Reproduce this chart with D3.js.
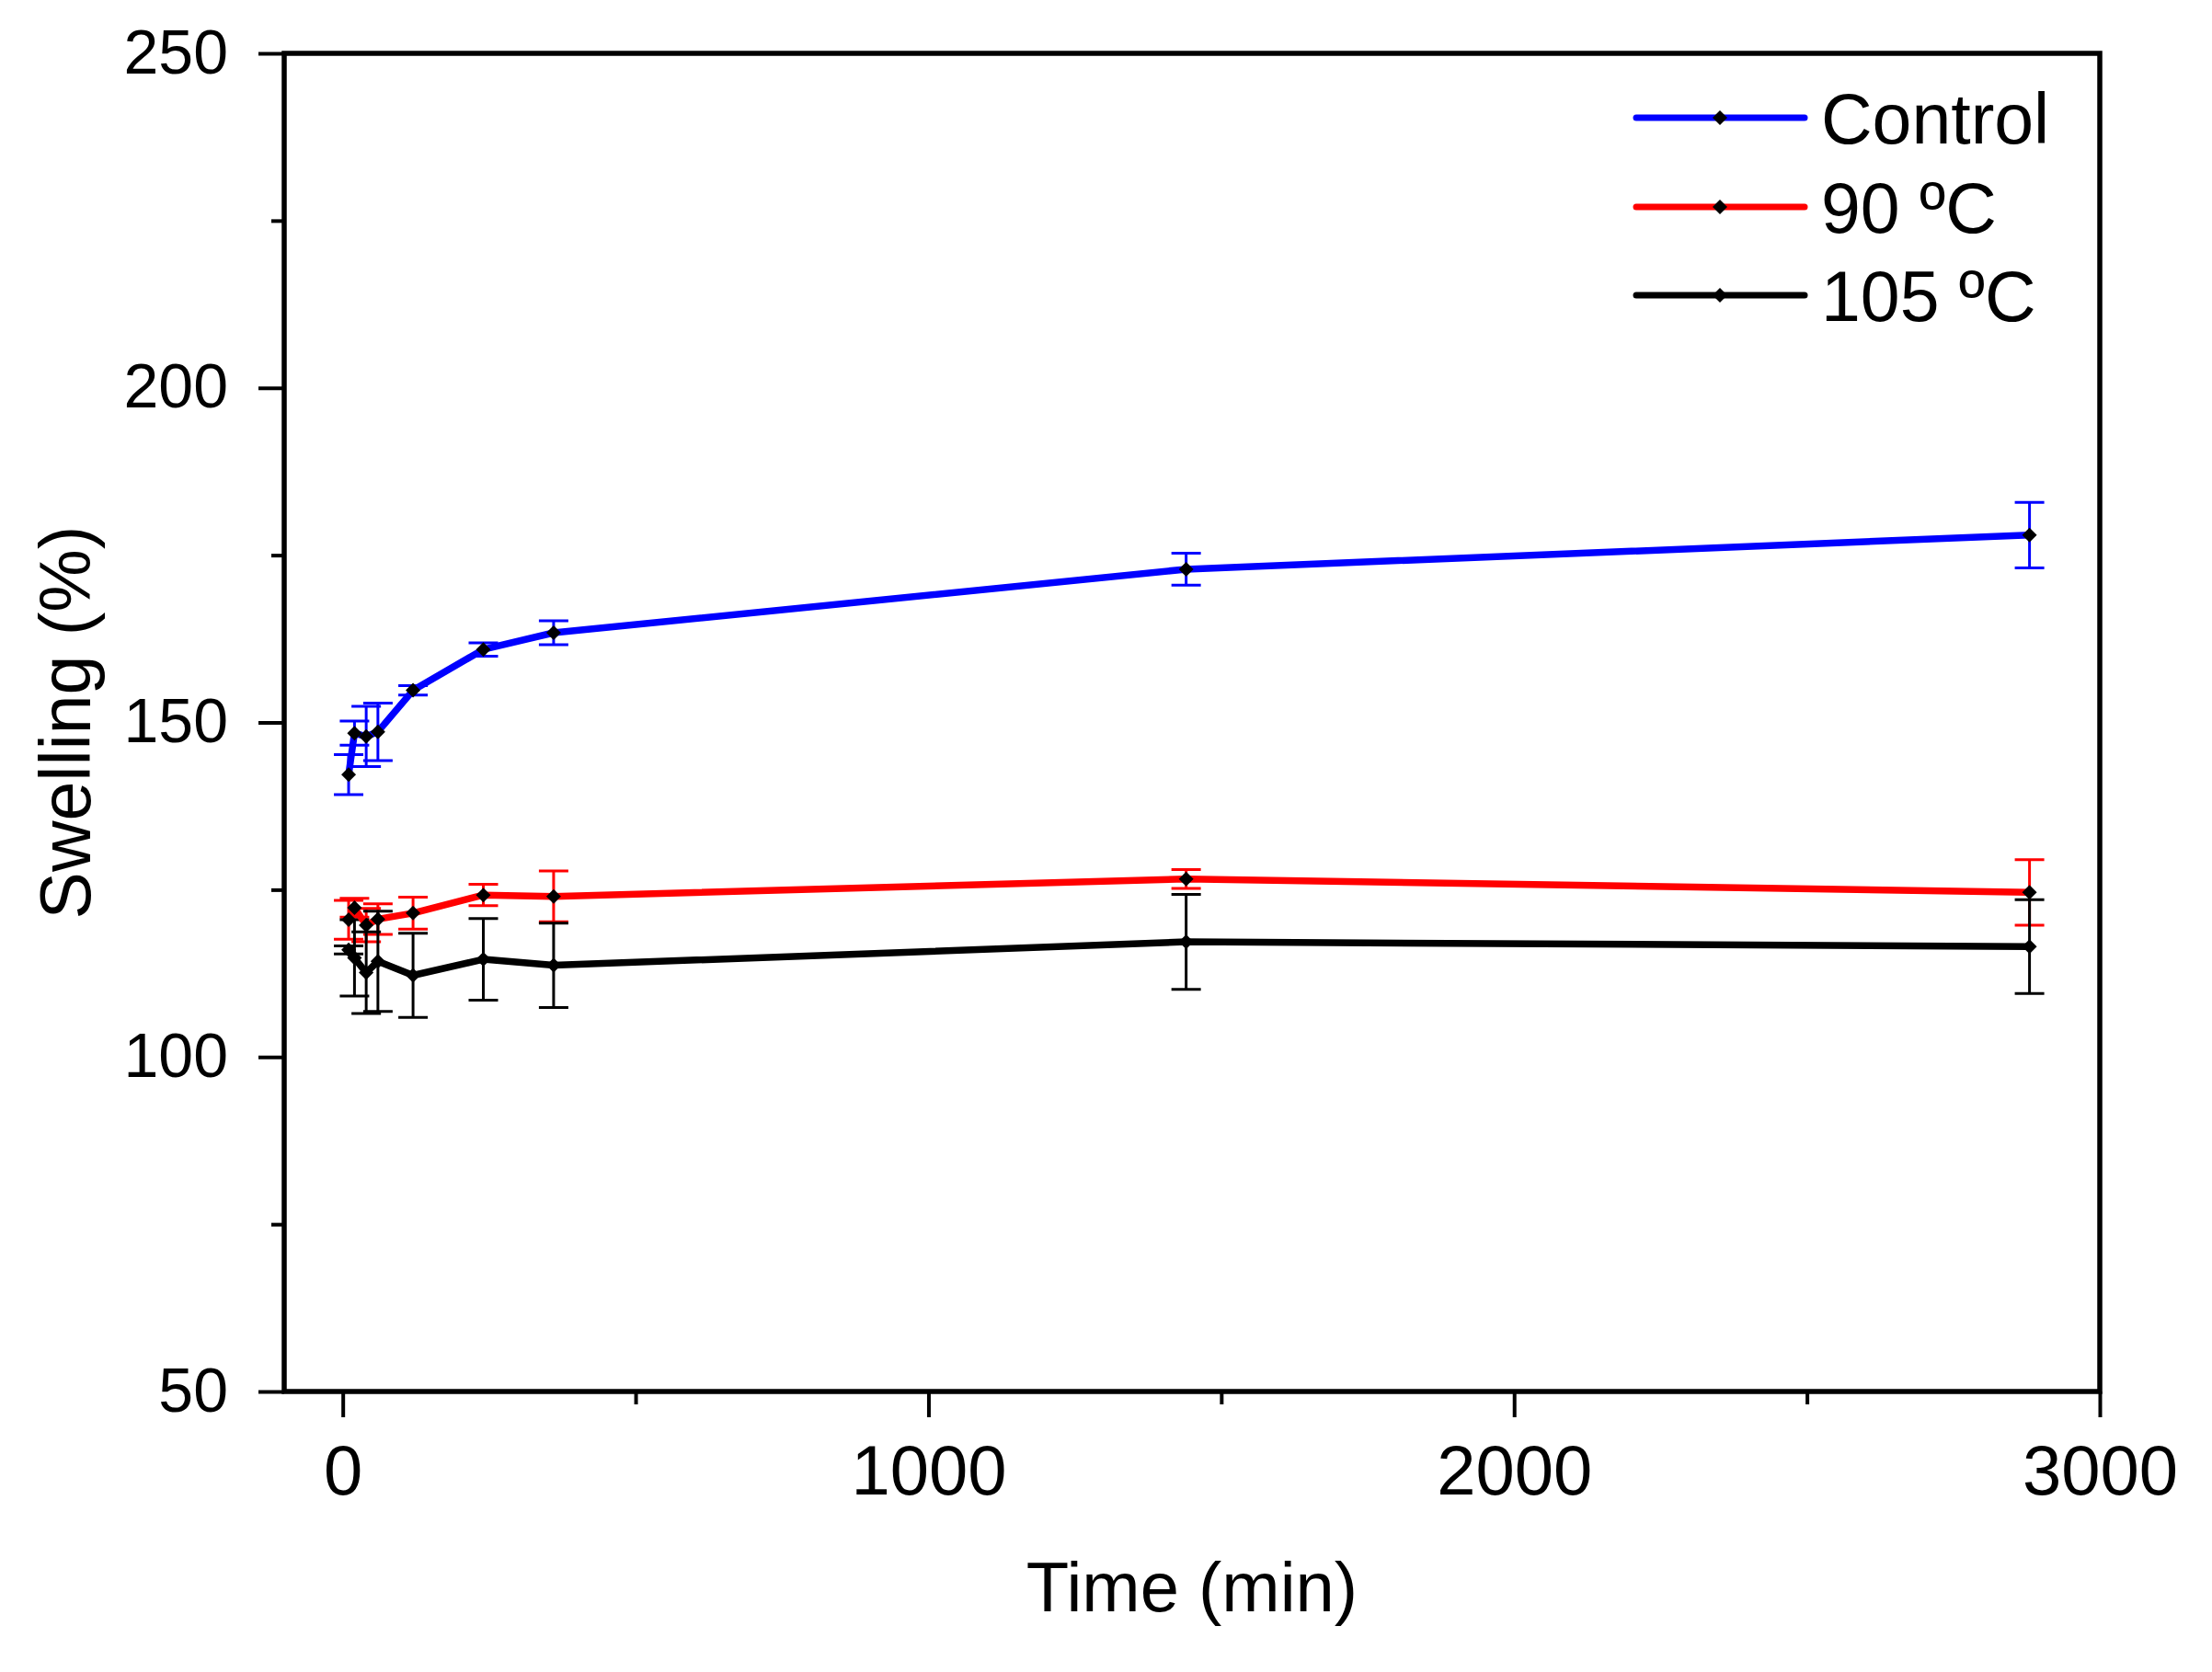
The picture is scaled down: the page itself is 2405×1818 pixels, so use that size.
<!DOCTYPE html>
<html lang="en">
<head>
<meta charset="UTF-8">
<title>Swelling vs time</title>
<script src="https://d3js.org/d3.v7.min.js"></script>
<style>
  html, body { margin: 0; padding: 0; background: #fff; }
  svg { display: block; font-family: "Liberation Sans", Arial, sans-serif; }
</style>
</head>
<body>
<svg id="chart" width="2405" height="1818"></svg>
<script>
'use strict';

// data
const time = [10, 20, 40, 60, 120, 240, 360, 1440, 2880];
const control = [142.2, 148.4, 147.9, 148.6, 154.8, 160.9, 163.4, 172.9, 178.0];
const controlErr = [3.0, 1.8, 4.5, 4.3, 0.7, 1.0, 1.8, 2.4, 4.9];
const t90 = [120.5, 122.3, 119.7, 120.6, 121.5, 124.2, 124.0, 126.6, 124.6];
const t90Err = [2.9, 1.4, 2.5, 2.3, 2.4, 1.6, 3.8, 1.4, 4.9];
const t105 = [116.0, 114.8, 112.6, 114.3, 112.2, 114.6, 113.7, 117.2, 116.5];
const t105Err = [0.6, 5.7, 6.1, 7.5, 6.3, 6.1, 6.3, 7.1, 7.0];

const seriesNames = ['Control', '90 \u00baC', '105 \u00baC'];
const seriesColors = ['#0000ff', '#ff0000', '#000000'];
const xTicks = [0, 1000, 2000, 3000];
const yTicks = [50, 100, 150, 200, 250];

const series = [
  { name: seriesNames[0], color: seriesColors[0], y: control, err: controlErr },
  { name: seriesNames[1], color: seriesColors[1], y: t90, err: t90Err },
  { name: seriesNames[2], color: seriesColors[2], y: t105, err: t105Err }
];

const svg = d3.select('#chart');
const plotL = 309, plotR = 2283, plotT = 58, plotB = 1513;

const x = d3.scaleLinear().domain([-100, 3000]).range([plotL, plotR]);
const y = d3.scaleLinear().domain([50, 250]).range([plotB, plotT]);

// x axis
const xAxis = svg.append('g').attr('transform', `translate(0,${plotB})`)
  .call(d3.axisBottom(x).tickValues(xTicks).tickSize(28).tickPadding(0).tickFormat(d3.format('d')));
xAxis.select('.domain').remove();
xAxis.selectAll('.tick line').attr('stroke', '#000').attr('stroke-width', 4);
xAxis.selectAll('.tick text').attr('font-size', 76).attr('fill', '#000')
  .attr('dy', 0).attr('y', 112).attr('font-family', '"Liberation Sans", Arial, sans-serif');
svg.append('g').attr('transform', `translate(0,${plotB})`)
  .call(d3.axisBottom(x).tickValues([500, 1500, 2500]).tickSize(14).tickFormat(''))
  .call(g => g.select('.domain').remove())
  .selectAll('.tick line').attr('stroke', '#000').attr('stroke-width', 4);

// y axis
const yAxis = svg.append('g').attr('transform', `translate(${plotL},0)`)
  .call(d3.axisLeft(y).tickValues(yTicks).tickSize(28).tickPadding(33));
yAxis.select('.domain').remove();
yAxis.selectAll('.tick line').attr('stroke', '#000').attr('stroke-width', 4);
yAxis.selectAll('.tick text').attr('font-size', 68).attr('fill', '#000')
  .attr('dy', 21).attr('font-family', '"Liberation Sans", Arial, sans-serif');
svg.append('g').attr('transform', `translate(${plotL},0)`)
  .call(d3.axisLeft(y).tickValues([75, 125, 175, 225]).tickSize(14).tickFormat(''))
  .call(g => g.select('.domain').remove())
  .selectAll('.tick line').attr('stroke', '#000').attr('stroke-width', 4);

// frame
svg.append('rect')
  .attr('x', plotL).attr('y', plotT)
  .attr('width', plotR - plotL).attr('height', plotB - plotT)
  .attr('fill', 'none').attr('stroke', '#000').attr('stroke-width', 5.5);

// axis titles
svg.append('text')
  .attr('x', (plotL + plotR) / 2).attr('y', 1752)
  .attr('text-anchor', 'middle').attr('font-size', 76)
  .text('Time (min)');
svg.append('text')
  .attr('transform', `translate(98,${(plotT + plotB) / 2}) rotate(-90)`)
  .attr('text-anchor', 'middle').attr('font-size', 77)
  .text('Swelling (%)');

const diamond = (cx, cy, r) => `M${cx},${cy - r}L${cx + r},${cy}L${cx},${cy + r}L${cx - r},${cy}Z`;

// error bars
const capW = 16;
series.forEach(s => {
  const g = svg.append('g').attr('stroke', s.color).attr('stroke-width', 3).attr('fill', 'none');
  time.forEach((t, i) => {
    const cx = x(t), y1 = y(s.y[i] + s.err[i]), y2 = y(s.y[i] - s.err[i]);
    g.append('line').attr('x1', cx).attr('x2', cx).attr('y1', y1).attr('y2', y2);
    g.append('line').attr('x1', cx - capW).attr('x2', cx + capW).attr('y1', y1).attr('y2', y1);
    g.append('line').attr('x1', cx - capW).attr('x2', cx + capW).attr('y1', y2).attr('y2', y2);
  });
});

// lines
const line = d3.line().x((d, i) => x(time[i])).y(d => y(d));
series.forEach(s => {
  svg.append('path')
    .attr('d', line(s.y))
    .attr('fill', 'none').attr('stroke', s.color).attr('stroke-width', 7.5)
    .attr('stroke-linejoin', 'round').attr('stroke-linecap', 'round');
});

// markers
series.forEach(s => {
  svg.append('g').selectAll('path')
    .data(s.y).enter().append('path')
    .attr('d', (d, i) => diamond(x(time[i]), y(d), 8))
    .attr('fill', '#000');
});

// legend
const legY = [128, 225, 321];
series.forEach((s, i) => {
  svg.append('line')
    .attr('x1', 1779).attr('x2', 1962).attr('y1', legY[i]).attr('y2', legY[i])
    .attr('stroke', s.color).attr('stroke-width', 7).attr('stroke-linecap', 'round');
  svg.append('path').attr('d', diamond(1870, legY[i], 8)).attr('fill', '#000');
  svg.append('text')
    .attr('x', 1980).attr('y', legY[i] + 28)
    .attr('font-size', 77).attr('fill', '#000')
    .text(s.name);
});
</script>
</body>
</html>
